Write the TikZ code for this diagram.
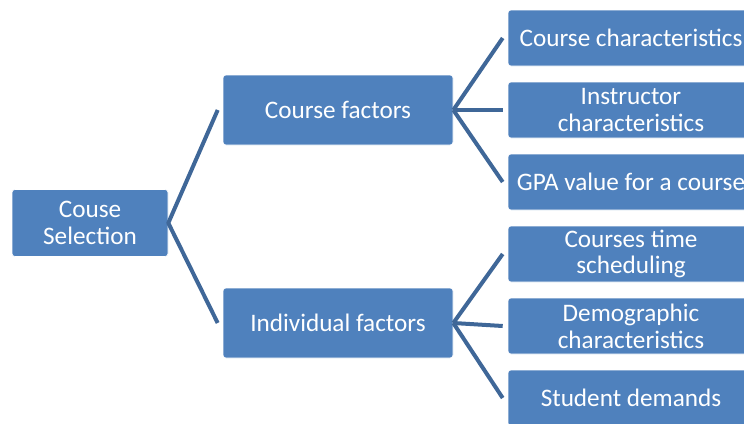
\documentclass[tikz,border=0pt]{standalone}
\usepackage{fontspec}
\setmainfont{Carlito}
\definecolor{boxblue}{HTML}{4F81BD}
\definecolor{linkblue}{HTML}{3F6798}
\begin{document}
\begin{tikzpicture}[x=1pt,y=-1pt,line join=round,
    box/.style={fill=boxblue,draw=white,line width=0.6pt,rounded corners=3pt,
      text=white,align=center,inner sep=0pt,font=\fontsize{25.2}{26.8}\selectfont},
    link/.style={draw=linkblue,line width=4pt}]
    \useasboundingbox (0,0) rectangle (744,423);
    \clip (0,0) rectangle (744,423);
    % root and the two factor groups
    \node[box,minimum width=156pt,minimum height=67pt] (root) at (90,223) {Couse\\Selection};
    \node[box,minimum width=230pt,minimum height=70pt] (cf) at (338,110) {Course factors};
    \node[box,minimum width=230pt,minimum height=70pt] (if) at (338,323) {Individual factors};
    % leaves
    \foreach \name/\y/\txt in {cc/38/{Course characteristics},ic/110/{Instructor\\characteristics},
        gpa/182/{GPA value for a course},ts/254/{Courses time\\scheduling},
        dc/326/{Demographic\\characteristics},sd/398/{Student demands}}
      \node[box,minimum width=246pt,minimum height=56pt] (\name) at (631,\y) {\txt};
    \draw[link] ([xshift=-5pt]cf.west) -- (root.east) -- ([xshift=-5pt]if.west);
    \foreach \leaf in {cc,ic,gpa}
      \draw[link] (cf.east) -- ([xshift=-5pt]\leaf.west);
    \foreach \leaf in {ts,dc,sd}
      \draw[link] (if.east) -- ([xshift=-5pt]\leaf.west);
\end{tikzpicture}
\end{document}
